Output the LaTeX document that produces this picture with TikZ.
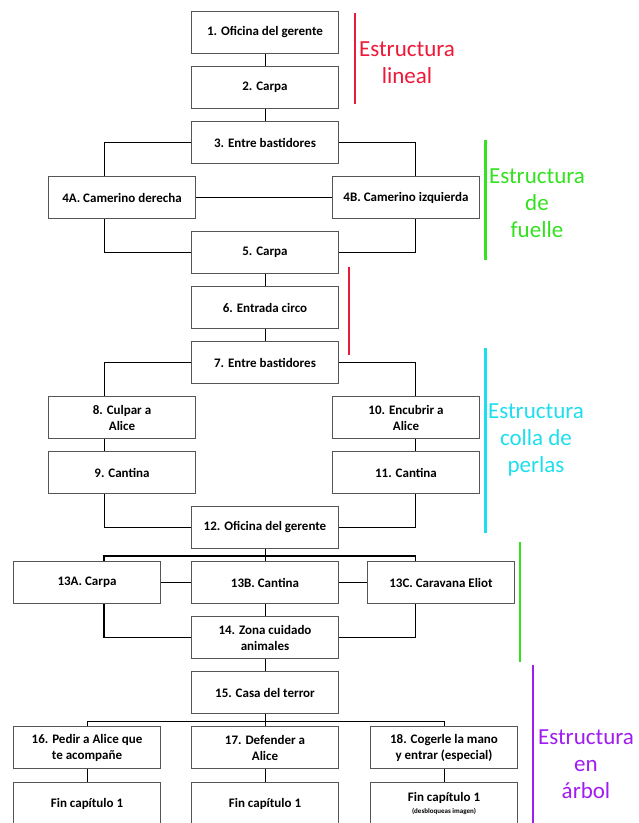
\documentclass[tikz,border=0pt]{standalone}
\usepackage{fontspec}
\newfontfamily\cajafont{Carlito}

\definecolor{rojo}{RGB}{238,24,56}
\definecolor{verde}{RGB}{50,226,30}
\definecolor{cian}{RGB}{30,222,238}
\definecolor{morado}{RGB}{160,28,240}
\definecolor{borde}{RGB}{85,85,85}

\begin{document}
\begin{tikzpicture}[x=1pt,y=-1pt,
        caja/.style={draw=borde,line width=0.8pt,minimum width=147pt,minimum height=42.5pt,
            inner sep=1pt,align=center,font=\cajafont\bfseries\fontsize{13}{16}\selectfont},
        etiqueta/.style={align=center,font=\cajafont\fontsize{23}{27}\selectfont},
        grueso/.style={line width=1.6pt},
        barra/.style={line width=2.6pt}]
        \useasboundingbox (0,0) rectangle (639,823);

        % columnas de las conexiones laterales
        \coordinate (L) at (104,0);
        \coordinate (R) at (415.6,0);

        \node[caja] (n1) at (265,32.5) {1. Oficina del gerente};
        \node[caja] (n2) at (265,87.5) {2. Carpa};
        \node[caja] (n3) at (265,142.5) {3. Entre bastidores};
        \node[caja] (n4a) at (122,197.5) {4A. Camerino derecha};
        \node[caja] (n4b) at (406,197.5) {4B. Camerino izquierda};
        \node[caja] (n5) at (265,252.5) {5. Carpa};
        \node[caja] (n6) at (265,307.5) {6. Entrada circo};
        \node[caja] (n7) at (265,362.5) {7. Entre bastidores};
        \node[caja] (n8) at (122,417.5) {8. Culpar a\\Alice};
        \node[caja] (n10) at (406,417.5) {10. Encubrir a\\Alice};
        \node[caja] (n9) at (122,472.5) {9. Cantina};
        \node[caja] (n11) at (406,472.5) {11. Cantina};
        \node[caja] (n12) at (265,527.5) {12. Oficina del gerente};
        \node[caja] (n13a) at (87,582.5) {13A. Carpa};
        \node[caja] (n13b) at (265,582.5) {13B. Cantina};
        \node[caja] (n13c) at (441,582.5) {13C. Caravana Eliot};
        \node[caja] (n14) at (265,637.5) {14. Zona cuidado\\animales};
        \node[caja] (n15) at (265,692.5) {15. Casa del terror};
        \node[caja] (n16) at (87,747.5) {16. Pedir a Alice que\\te acompañe};
        \node[caja] (n17) at (265,747.5) {17. Defender a\\Alice};
        \node[caja] (n18) at (444,747.5) {18. Cogerle la mano\\y entrar (especial)};
        \node[caja,minimum height=44pt] (fin1) at (87,804) {Fin capítulo 1};
        \node[caja,minimum height=44pt] (fin2) at (265,804) {Fin capítulo 1};
        \node[caja,minimum height=44pt] (fin3) at (444,804) {Fin capítulo 1\\[-4pt]{\fontsize{7}{8}\selectfont (desbloqueas imagen)}};

        \coordinate (f1) at (265,555.7);
        \coordinate (f2) at (265,721);

        % conexiones
        \draw[line width=0.9pt] (n1) -- (n2);
        \draw[line width=0.9pt] (n2) -- (n3);
        \draw[line width=0.9pt] (n3.west) -| (n4a.north -| L);
        \draw[line width=0.9pt] (n3.east) -| (n4b.north -| R);
        \draw[line width=0.9pt] (n4a) -- (n4b);
        \draw[line width=0.9pt] (n4a.south -| L) |- (n5.west);
        \draw[line width=0.9pt] (n4b.south -| R) |- (n5.east);
        \draw[line width=0.9pt] (n5) -- (n6);
        \draw[line width=0.9pt] (n6) -- (n7);
        \draw[line width=0.9pt] (n7.west) -| (n8.north -| L);
        \draw[line width=0.9pt] (n7.east) -| (n10.north -| R);
        \draw[line width=0.9pt] (n8.south -| L) -- (n9.north -| L);
        \draw[line width=0.9pt] (n10.south -| R) -- (n11.north -| R);
        \draw[line width=0.9pt] (n9.south -| L) |- (n12.west);
        \draw[line width=0.9pt] (n11.south -| R) |- (n12.east);
        \draw[line width=0.9pt] (n12) -- (f1);
        \draw[grueso] (n13a.north -| L) |- (f1) -| (n13c.north -| R);
        \draw[line width=0.9pt] (f1) -- (n13b);
        \draw[grueso] (n13a) -- (n13b);
        \draw[grueso] (n13b) -- (n13c);
        \draw[line width=0.9pt] (n13b) -- (n14);
        \draw[grueso] (n13a.south -| L) |- (n14.west);
        \draw[grueso] (n13c.south -| R) |- (n14.east);
        \draw[line width=0.9pt] (n14) -- (n15);
        \draw[line width=0.9pt] (n15) -- (f2);
        \draw[line width=0.9pt] (n16.north) |- (f2) -| (n18.north);
        \draw[line width=0.9pt] (f2) -- (n17);
        \draw[line width=0.9pt] (n16) -- (fin1);
        \draw[line width=0.9pt] (n17) -- (fin2);
        \draw[line width=0.9pt] (n18) -- (fin3);

        % estructuras
        \draw[barra,rojo] (355,13) -- (355,104);
        \node[etiqueta,text=rojo] (e1) at (407,63) {Estructura\\lineal};
        \draw[barra,verde] (485.6,140) -- (485.6,260);
        \node[etiqueta,text=verde] (e2) at (537,203) {Estructura\\de\\fuelle};
        \draw[barra,rojo] (349,267) -- (349,355);
        \draw[barra,cian] (485.6,348) -- (485.6,533);
        \node[etiqueta,text=cian] (e3) at (536,440) {Estructura\\colla de\\perlas};
        \draw[barra,verde] (520,542) -- (520,662);
        \draw[barra,morado] (533,665) -- (533,823);
        \node[etiqueta,text=morado] (e4) at (586,764) {Estructura\\en\\árbol};
\end{tikzpicture}
\end{document}
